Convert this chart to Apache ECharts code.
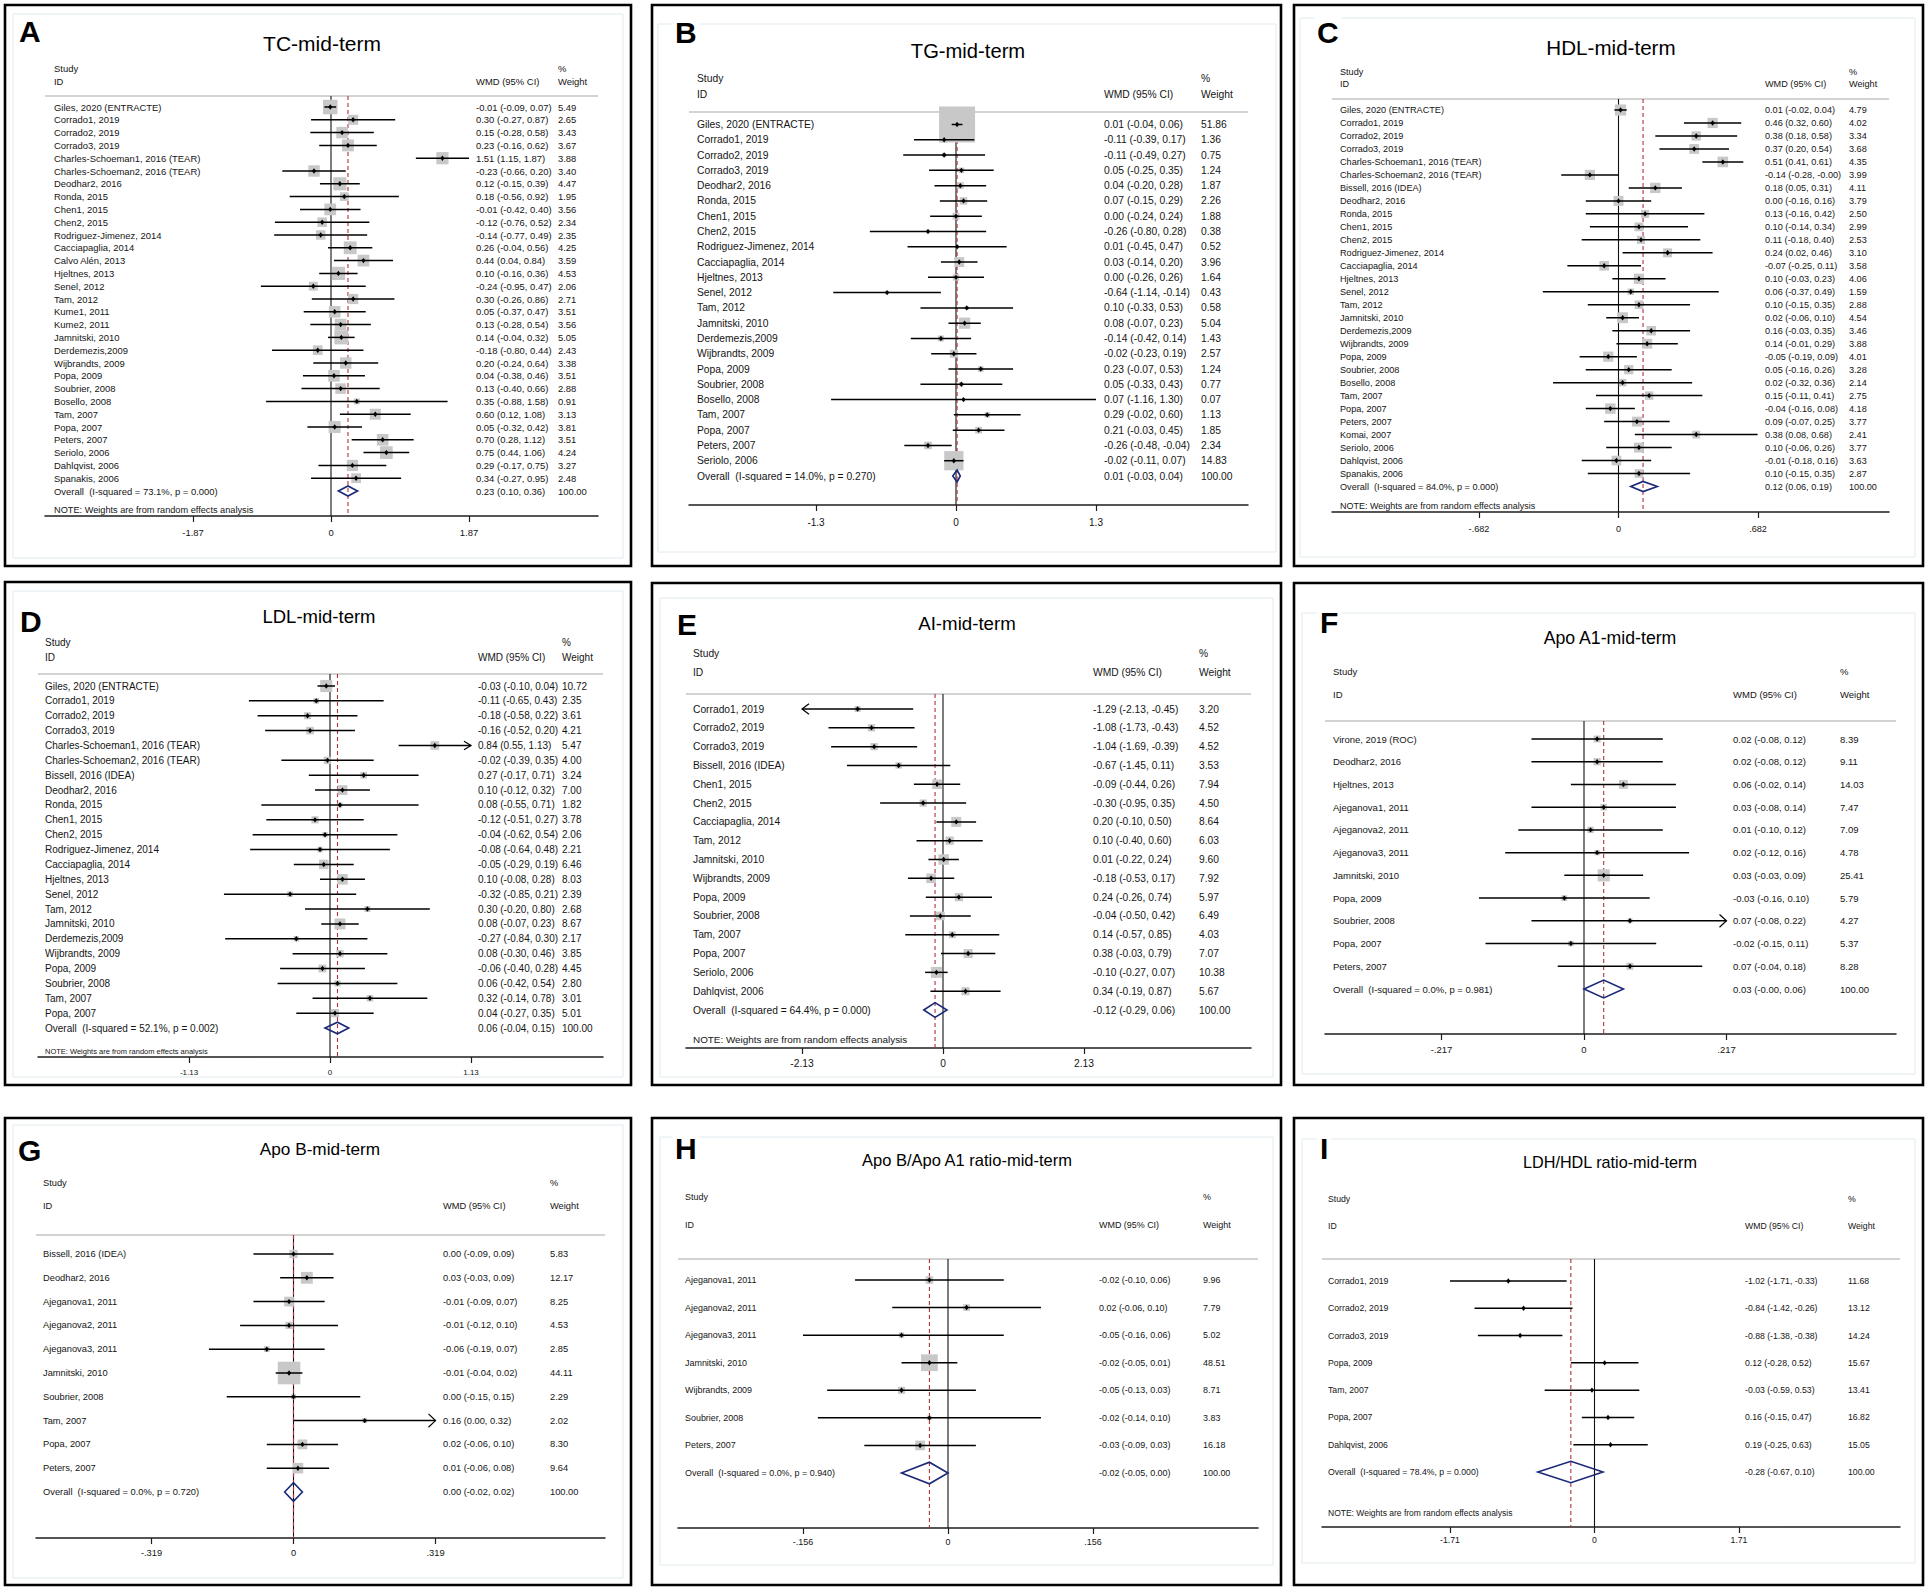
<!DOCTYPE html>
<html>
<head>
<meta charset="utf-8">
<title>Mid-term lipid meta-analysis forest plots</title>
<script src="https://cdn.jsdelivr.net/npm/echarts@6/dist/echarts.min.js"></script>
<style>
  html, body { margin: 0; padding: 0; background: #fff; }
  #chart { width: 1928px; height: 1592px; }
</style>
</head>
<body>
<div id="chart"></div>
<script>
// ---------- data ----------
// A: TC
const tcStudies = ['Giles, 2020 (ENTRACTE)', 'Corrado1, 2019', 'Corrado2, 2019', 'Corrado3, 2019',
  'Charles-Schoeman1, 2016 (TEAR)', 'Charles-Schoeman2, 2016 (TEAR)', 'Deodhar2, 2016', 'Ronda, 2015',
  'Chen1, 2015', 'Chen2, 2015', 'Rodriguez-Jimenez, 2014', 'Cacciapaglia, 2014', 'Calvo Alén, 2013',
  'Hjeltnes, 2013', 'Senel, 2012', 'Tam, 2012', 'Kume1, 2011', 'Kume2, 2011', 'Jamnitski, 2010',
  'Derdemezis,2009', 'Wijbrandts, 2009', 'Popa, 2009', 'Soubrier, 2008', 'Bosello, 2008', 'Tam, 2007',
  'Popa, 2007', 'Peters, 2007', 'Seriolo, 2006', 'Dahlqvist, 2006', 'Spanakis, 2006'];
const tcEst = [-0.01, 0.30, 0.15, 0.23, 1.51, -0.23, 0.12, 0.18, -0.01, -0.12, -0.14, 0.26, 0.44, 0.10, -0.24,
  0.30, 0.05, 0.13, 0.14, -0.18, 0.20, 0.04, 0.13, 0.35, 0.60, 0.05, 0.70, 0.75, 0.29, 0.34];
const tcLow = [-0.09, -0.27, -0.28, -0.16, 1.15, -0.66, -0.15, -0.56, -0.42, -0.76, -0.77, -0.04, 0.04, -0.16, -0.95,
  -0.26, -0.37, -0.28, -0.04, -0.80, -0.24, -0.38, -0.40, -0.88, 0.12, -0.32, 0.28, 0.44, -0.17, -0.27];
const tcHigh = [0.07, 0.87, 0.58, 0.62, 1.87, 0.20, 0.39, 0.92, 0.40, 0.52, 0.49, 0.56, 0.84, 0.36, 0.47,
  0.86, 0.47, 0.54, 0.32, 0.44, 0.64, 0.46, 0.66, 1.58, 1.08, 0.42, 1.12, 1.06, 0.75, 0.95];
const tcWeight = [5.49, 2.65, 3.43, 3.67, 3.88, 3.40, 4.47, 1.95, 3.56, 2.34, 2.35, 4.25, 3.59, 4.53, 2.06,
  2.71, 3.51, 3.56, 5.05, 2.43, 3.38, 3.51, 2.88, 0.91, 3.13, 3.81, 3.51, 4.24, 3.27, 2.48];
const tcOverall = [0.23, 0.10, 0.36];
const tcHetero = [73.1, 0.000];
const tcArrows = [];

// B: TG
const tgStudies = ['Giles, 2020 (ENTRACTE)', 'Corrado1, 2019', 'Corrado2, 2019', 'Corrado3, 2019', 'Deodhar2, 2016',
  'Ronda, 2015', 'Chen1, 2015', 'Chen2, 2015', 'Rodriguez-Jimenez, 2014', 'Cacciapaglia, 2014', 'Hjeltnes, 2013',
  'Senel, 2012', 'Tam, 2012', 'Jamnitski, 2010', 'Derdemezis,2009', 'Wijbrandts, 2009', 'Popa, 2009',
  'Soubrier, 2008', 'Bosello, 2008', 'Tam, 2007', 'Popa, 2007', 'Peters, 2007', 'Seriolo, 2006'];
const tgEst = [0.01, -0.11, -0.11, 0.05, 0.04, 0.07, 0.00, -0.26, 0.01, 0.03, 0.00, -0.64, 0.10, 0.08, -0.14,
  -0.02, 0.23, 0.05, 0.07, 0.29, 0.21, -0.26, -0.02];
const tgLow = [-0.04, -0.39, -0.49, -0.25, -0.20, -0.15, -0.24, -0.80, -0.45, -0.14, -0.26, -1.14, -0.33, -0.07, -0.42,
  -0.23, -0.07, -0.33, -1.16, -0.02, -0.03, -0.48, -0.11];
const tgHigh = [0.06, 0.17, 0.27, 0.35, 0.28, 0.29, 0.24, 0.28, 0.47, 0.20, 0.26, -0.14, 0.53, 0.23, 0.14,
  0.19, 0.53, 0.43, 1.30, 0.60, 0.45, -0.04, 0.07];
const tgWeight = [51.86, 1.36, 0.75, 1.24, 1.87, 2.26, 1.88, 0.38, 0.52, 3.96, 1.64, 0.43, 0.58, 5.04, 1.43,
  2.57, 1.24, 0.77, 0.07, 1.13, 1.85, 2.34, 14.83];
const tgOverall = [0.01, -0.03, 0.04];
const tgHetero = [14.0, 0.270];
const tgArrows = [];

// C: HDL
const hdlStudies = ['Giles, 2020 (ENTRACTE)', 'Corrado1, 2019', 'Corrado2, 2019', 'Corrado3, 2019',
  'Charles-Schoeman1, 2016 (TEAR)', 'Charles-Schoeman2, 2016 (TEAR)', 'Bissell, 2016 (IDEA)', 'Deodhar2, 2016',
  'Ronda, 2015', 'Chen1, 2015', 'Chen2, 2015', 'Rodriguez-Jimenez, 2014', 'Cacciapaglia, 2014', 'Hjeltnes, 2013',
  'Senel, 2012', 'Tam, 2012', 'Jamnitski, 2010', 'Derdemezis,2009', 'Wijbrandts, 2009', 'Popa, 2009',
  'Soubrier, 2008', 'Bosello, 2008', 'Tam, 2007', 'Popa, 2007', 'Peters, 2007', 'Komai, 2007', 'Seriolo, 2006',
  'Dahlqvist, 2006', 'Spanakis, 2006'];
const hdlEst = [0.01, 0.46, 0.38, 0.37, 0.51, -0.14, 0.18, 0.00, 0.13, 0.10, 0.11, 0.24, -0.07, 0.10, 0.06,
  0.10, 0.02, 0.16, 0.14, -0.05, 0.05, 0.02, 0.15, -0.04, 0.09, 0.38, 0.10, -0.01, 0.10];
const hdlLow = [-0.02, 0.32, 0.18, 0.20, 0.41, -0.28, 0.05, -0.16, -0.16, -0.14, -0.18, 0.02, -0.25, -0.03, -0.37,
  -0.15, -0.06, -0.03, -0.01, -0.19, -0.16, -0.32, -0.11, -0.16, -0.07, 0.08, -0.06, -0.18, -0.15];
const hdlHigh = [0.04, 0.60, 0.58, 0.54, 0.61, -0, 0.31, 0.16, 0.42, 0.34, 0.40, 0.46, 0.11, 0.23, 0.49,
  0.35, 0.10, 0.35, 0.29, 0.09, 0.26, 0.36, 0.41, 0.08, 0.25, 0.68, 0.26, 0.16, 0.35];
const hdlWeight = [4.79, 4.02, 3.34, 3.68, 4.35, 3.99, 4.11, 3.79, 2.50, 2.99, 2.53, 3.10, 3.58, 4.06, 1.59,
  2.88, 4.54, 3.46, 3.88, 4.01, 3.28, 2.14, 2.75, 4.18, 3.77, 2.41, 3.77, 3.63, 2.87];
const hdlOverall = [0.12, 0.06, 0.19];
const hdlHetero = [84.0, 0.000];
const hdlArrows = [];

// D: LDL
const ldlStudies = ['Giles, 2020 (ENTRACTE)', 'Corrado1, 2019', 'Corrado2, 2019', 'Corrado3, 2019',
  'Charles-Schoeman1, 2016 (TEAR)', 'Charles-Schoeman2, 2016 (TEAR)', 'Bissell, 2016 (IDEA)', 'Deodhar2, 2016',
  'Ronda, 2015', 'Chen1, 2015', 'Chen2, 2015', 'Rodriguez-Jimenez, 2014', 'Cacciapaglia, 2014', 'Hjeltnes, 2013',
  'Senel, 2012', 'Tam, 2012', 'Jamnitski, 2010', 'Derdemezis,2009', 'Wijbrandts, 2009', 'Popa, 2009',
  'Soubrier, 2008', 'Tam, 2007', 'Popa, 2007'];
const ldlEst = [-0.03, -0.11, -0.18, -0.16, 0.84, -0.02, 0.27, 0.10, 0.08, -0.12, -0.04, -0.08, -0.05, 0.10, -0.32,
  0.30, 0.08, -0.27, 0.08, -0.06, 0.06, 0.32, 0.04];
const ldlLow = [-0.10, -0.65, -0.58, -0.52, 0.55, -0.39, -0.17, -0.12, -0.55, -0.51, -0.62, -0.64, -0.29, -0.08, -0.85,
  -0.20, -0.07, -0.84, -0.30, -0.40, -0.42, -0.14, -0.27];
const ldlHigh = [0.04, 0.43, 0.22, 0.20, 1.13, 0.35, 0.71, 0.32, 0.71, 0.27, 0.54, 0.48, 0.19, 0.28, 0.21,
  0.80, 0.23, 0.30, 0.46, 0.28, 0.54, 0.78, 0.35];
const ldlWeight = [10.72, 2.35, 3.61, 4.21, 5.47, 4.00, 3.24, 7.00, 1.82, 3.78, 2.06, 2.21, 6.46, 8.03, 2.39,
  2.68, 8.67, 2.17, 3.85, 4.45, 2.80, 3.01, 5.01];
const ldlOverall = [0.06, -0.04, 0.15];
const ldlHetero = [52.1, 0.002];
const ldlArrows = [4];

// E: AI
const aiStudies = ['Corrado1, 2019', 'Corrado2, 2019', 'Corrado3, 2019', 'Bissell, 2016 (IDEA)', 'Chen1, 2015',
  'Chen2, 2015', 'Cacciapaglia, 2014', 'Tam, 2012', 'Jamnitski, 2010', 'Wijbrandts, 2009', 'Popa, 2009',
  'Soubrier, 2008', 'Tam, 2007', 'Popa, 2007', 'Seriolo, 2006', 'Dahlqvist, 2006'];
const aiEst = [-1.29, -1.08, -1.04, -0.67, -0.09, -0.30, 0.20, 0.10, 0.01, -0.18, 0.24, -0.04, 0.14, 0.38, -0.10, 0.34];
const aiLow = [-2.13, -1.73, -1.69, -1.45, -0.44, -0.95, -0.10, -0.40, -0.22, -0.53, -0.26, -0.50, -0.57, -0.03, -0.27, -0.19];
const aiHigh = [-0.45, -0.43, -0.39, 0.11, 0.26, 0.35, 0.50, 0.60, 0.24, 0.17, 0.74, 0.42, 0.85, 0.79, 0.07, 0.87];
const aiWeight = [3.20, 4.52, 4.52, 3.53, 7.94, 4.50, 8.64, 6.03, 9.60, 7.92, 5.97, 6.49, 4.03, 7.07, 10.38, 5.67];
const aiOverall = [-0.12, -0.29, 0.06];
const aiHetero = [64.4, 0.000];
const aiArrows = [0];

// F: Apo A1
const apoa1Studies = ['Virone, 2019 (ROC)', 'Deodhar2, 2016', 'Hjeltnes, 2013', 'Ajeganova1, 2011', 'Ajeganova2, 2011',
  'Ajeganova3, 2011', 'Jamnitski, 2010', 'Popa, 2009', 'Soubrier, 2008', 'Popa, 2007', 'Peters, 2007'];
const apoa1Est = [0.02, 0.02, 0.06, 0.03, 0.01, 0.02, 0.03, -0.03, 0.07, -0.02, 0.07];
const apoa1Low = [-0.08, -0.08, -0.02, -0.08, -0.10, -0.12, -0.03, -0.16, -0.08, -0.15, -0.04];
const apoa1High = [0.12, 0.12, 0.14, 0.14, 0.12, 0.16, 0.09, 0.10, 0.22, 0.11, 0.18];
const apoa1Weight = [8.39, 9.11, 14.03, 7.47, 7.09, 4.78, 25.41, 5.79, 4.27, 5.37, 8.28];
const apoa1Overall = [0.03, -0, 0.06];
const apoa1Hetero = [0.0, 0.981];
const apoa1Arrows = [8];

// G: Apo B
const apobStudies = ['Bissell, 2016 (IDEA)', 'Deodhar2, 2016', 'Ajeganova1, 2011', 'Ajeganova2, 2011', 'Ajeganova3, 2011',
  'Jamnitski, 2010', 'Soubrier, 2008', 'Tam, 2007', 'Popa, 2007', 'Peters, 2007'];
const apobEst = [0.00, 0.03, -0.01, -0.01, -0.06, -0.01, 0.00, 0.16, 0.02, 0.01];
const apobLow = [-0.09, -0.03, -0.09, -0.12, -0.19, -0.04, -0.15, 0.00, -0.06, -0.06];
const apobHigh = [0.09, 0.09, 0.07, 0.10, 0.07, 0.02, 0.15, 0.32, 0.10, 0.08];
const apobWeight = [5.83, 12.17, 8.25, 4.53, 2.85, 44.11, 2.29, 2.02, 8.30, 9.64];
const apobOverall = [0.00, -0.02, 0.02];
const apobHetero = [0.0, 0.720];
const apobArrows = [7];

// H: Apo B / Apo A1 ratio
const ratioStudies = ['Ajeganova1, 2011', 'Ajeganova2, 2011', 'Ajeganova3, 2011', 'Jamnitski, 2010',
  'Wijbrandts, 2009', 'Soubrier, 2008', 'Peters, 2007'];
const ratioEst = [-0.02, 0.02, -0.05, -0.02, -0.05, -0.02, -0.03];
const ratioLow = [-0.10, -0.06, -0.16, -0.05, -0.13, -0.14, -0.09];
const ratioHigh = [0.06, 0.10, 0.06, 0.01, 0.03, 0.10, 0.03];
const ratioWeight = [9.96, 7.79, 5.02, 48.51, 8.71, 3.83, 16.18];
const ratioOverall = [-0.02, -0.05, 0.00];
const ratioHetero = [0.0, 0.940];
const ratioArrows = [];

// I: LDH/HDL ratio
const ldhStudies = ['Corrado1, 2019', 'Corrado2, 2019', 'Corrado3, 2019', 'Popa, 2009', 'Tam, 2007', 'Popa, 2007',
  'Dahlqvist, 2006'];
const ldhEst = [-1.02, -0.84, -0.88, 0.12, -0.03, 0.16, 0.19];
const ldhLow = [-1.71, -1.42, -1.38, -0.28, -0.59, -0.15, -0.25];
const ldhHigh = [-0.33, -0.26, -0.38, 0.52, 0.53, 0.47, 0.63];
const ldhWeight = [11.68, 13.12, 14.24, 15.67, 13.41, 16.82, 15.05];
const ldhOverall = [-0.28, -0.67, 0.10];
const ldhHetero = [78.4, 0.000];
const ldhArrows = [];

// ---------- panel layout (pixels on the 1928x1592 page) ----------
const panels = [
  { letter: 'A', title: 'TC-mid-term', studies: tcStudies, est: tcEst, low: tcLow, high: tcHigh, weight: tcWeight,
    overall: tcOverall, hetero: tcHetero, arrows: tcArrows, tick: 1.87, note: true,
    box: [5, 5, 631, 566], frame: [13, 14, 623, 558], letterPos: [16, 31], titlePos: [322, 43], titleSize: 21,
    font: 9.45, studyX: 54, wmdX: 476, wtX: 558, hdrY: [68, 81], lineX: [45, 598], headerY: 96, axisY: 516,
    zeroX: 331, tickPx: 138, rowY: [107, 491], noteY: 510, noteSize: 9.2, tickSize: 9.45, labelY: 533, boxK: 6.2 },
  { letter: 'B', title: 'TG-mid-term', studies: tgStudies, est: tgEst, low: tgLow, high: tgHigh, weight: tgWeight,
    overall: tgOverall, hetero: tgHetero, arrows: tgArrows, tick: 1.3, note: false,
    box: [652, 5, 1281, 566], frame: [658, 24, 1276, 552], letterPos: [672, 32], titlePos: [968, 51], titleSize: 20.2,
    font: 10.3, studyX: 697, wmdX: 1104, wtX: 1201, hdrY: [78, 94], lineX: [689, 1248], headerY: 112, axisY: 505,
    zeroX: 956, tickPx: 140, rowY: [124.5, 476], tickSize: 10, labelY: 522, boxK: 5.0 },
  { letter: 'C', title: 'HDL-mid-term', studies: hdlStudies, est: hdlEst, low: hdlLow, high: hdlHigh, weight: hdlWeight,
    overall: hdlOverall, hetero: hdlHetero, arrows: hdlArrows, tick: 0.682, note: true,
    box: [1294, 5, 1923, 566], frame: [1300, 18, 1915, 557], letterPos: [1314, 32], titlePos: [1611, 47], titleSize: 20.6,
    font: 9.15, studyX: 1340, wmdX: 1765, wtX: 1849, hdrY: [71.5, 84], lineX: [1332, 1889], headerY: 99, axisY: 512,
    zeroX: 1618.5, tickPx: 139.5, rowY: [110, 486.5], noteY: 506, noteSize: 9, tickSize: 9.15, labelY: 529, boxK: 5.1 },
  { letter: 'D', title: 'LDL-mid-term', studies: ldlStudies, est: ldlEst, low: ldlLow, high: ldlHigh, weight: ldlWeight,
    overall: ldlOverall, hetero: ldlHetero, arrows: ldlArrows, tick: 1.13, note: true,
    box: [5, 582, 631, 1085], frame: [13, 591, 623, 1077], letterPos: [17, 621], titlePos: [319, 616], titleSize: 18.5,
    font: 10, studyX: 45, wmdX: 478, wtX: 562, hdrY: [642, 657], lineX: [38, 603], headerY: 674, axisY: 1057,
    zeroX: 330, tickPx: 141, rowY: [686, 1028], noteY: 1051, noteSize: 7.5, tickSize: 8, labelY: 1072, boxK: 3.7 },
  { letter: 'E', title: 'AI-mid-term', studies: aiStudies, est: aiEst, low: aiLow, high: aiHigh, weight: aiWeight,
    overall: aiOverall, hetero: aiHetero, arrows: aiArrows, tick: 2.13, note: true,
    box: [652, 583, 1281, 1085], frame: [660, 598, 1273, 1077], letterPos: [674, 624], titlePos: [967, 623], titleSize: 18.7,
    font: 10.25, studyX: 693, wmdX: 1093, wtX: 1199, hdrY: [653, 672], lineX: [686, 1251], headerY: 694, axisY: 1048,
    zeroX: 943, tickPx: 141, rowY: [709, 1010], noteY: 1039, noteSize: 9.9, tickSize: 10.25, labelY: 1064, boxK: 3.4 },
  { letter: 'F', title: 'Apo A1-mid-term', studies: apoa1Studies, est: apoa1Est, low: apoa1Low, high: apoa1High,
    weight: apoa1Weight, overall: apoa1Overall, hetero: apoa1Hetero, arrows: apoa1Arrows, tick: 0.217, note: false,
    box: [1294, 583, 1923, 1085], frame: [1302, 613, 1915, 1074], letterPos: [1317, 622], titlePos: [1610, 638], titleSize: 17.7,
    font: 9.5, studyX: 1333, wmdX: 1733, wtX: 1840, hdrY: [671, 694], lineX: [1325, 1896], headerY: 721, axisY: 1034,
    zeroX: 1584, tickPx: 142.5, rowY: [739, 989], tickSize: 9.5, labelY: 1049, boxK: 2.4 },
  { letter: 'G', title: 'Apo B-mid-term', studies: apobStudies, est: apobEst, low: apobLow, high: apobHigh,
    weight: apobWeight, overall: apobOverall, hetero: apobHetero, arrows: apobArrows, tick: 0.319, note: false,
    box: [5, 1118, 631, 1585], frame: [13, 1125, 623, 1578], letterPos: [15, 1150], titlePos: [320, 1149], titleSize: 17.2,
    font: 9.3, studyX: 43, wmdX: 443, wtX: 550, hdrY: [1183, 1206], lineX: [36, 605], headerY: 1235, axisY: 1538,
    zeroX: 293.5, tickPx: 142, rowY: [1254, 1492], tickSize: 9.3, labelY: 1553, boxK: 3.4 },
  { letter: 'H', title: 'Apo B/Apo A1 ratio-mid-term', studies: ratioStudies, est: ratioEst, low: ratioLow, high: ratioHigh,
    weight: ratioWeight, overall: ratioOverall, hetero: ratioHetero, arrows: ratioArrows, tick: 0.156, note: false,
    box: [652, 1118, 1281, 1585], frame: [660, 1137, 1273, 1565], letterPos: [672, 1148], titlePos: [967, 1160], titleSize: 16.5,
    font: 8.95, studyX: 685, wmdX: 1099, wtX: 1203, hdrY: [1197, 1225], lineX: [678, 1258], headerY: 1259, axisY: 1528,
    zeroX: 948, tickPx: 145, rowY: [1280, 1473], tickSize: 8.95, labelY: 1542, boxK: 2.4 },
  { letter: 'I', title: 'LDH/HDL ratio-mid-term', studies: ldhStudies, est: ldhEst, low: ldhLow, high: ldhHigh,
    weight: ldhWeight, overall: ldhOverall, hetero: ldhHetero, arrows: ldhArrows, tick: 1.71, note: true,
    box: [1294, 1118, 1923, 1585], frame: [1302, 1139, 1915, 1563], letterPos: [1317, 1148], titlePos: [1610, 1162], titleSize: 16.2,
    font: 8.7, studyX: 1328, wmdX: 1745, wtX: 1848, hdrY: [1199, 1226], lineX: [1322, 1900], headerY: 1259, axisY: 1527,
    zeroX: 1594.5, tickPx: 144.5, rowY: [1281, 1472], noteY: 1513, noteSize: 8.5, tickSize: 8.7, labelY: 1540, boxK: 0 }
];

const FONT = '"Liberation Sans", Arial, Helvetica, sans-serif';
const TEXT_COLOR = '#141414';

// Stata style tick labels: ".682" instead of "0.682"
function stataTick(v) {
  if (v === 0) return '0';
  let s = String(Math.abs(v));
  if (s.indexOf('0.') === 0) s = s.slice(1);
  return (v < 0 ? '-' : '') + s;
}
function num2(v) {
  return (v < 0 || Object.is(v, -0) ? '-' : '') + Math.abs(v).toFixed(2);
}
function ciText(e, l, h) {
  return num2(e) + ' (' + num2(l) + ', ' + num2(h) + ')';
}
function textEl(text, x, y, size, extra) {
  return {
    type: 'text',
    style: Object.assign({ text: text, x: x, y: y, fontSize: size, fontFamily: FONT, fill: TEXT_COLOR,
      align: 'left', verticalAlign: 'middle' }, extra || {})
  };
}

const option = {
  animation: false,
  backgroundColor: '#ffffff',
  grid: [], xAxis: [], yAxis: [], series: [],
  graphic: { elements: [] }
};

panels.forEach((p, i) => {
  const n = p.studies.length;
  const T = p.tick;
  const unit = T / p.tickPx;
  const step = (p.rowY[1] - p.rowY[0]) / n;
  const g = option.graphic.elements;

  // outer box, faint inner frame
  g.push({ type: 'rect', z: 0, silent: true,
    shape: { x: p.frame[0], y: p.frame[1], width: p.frame[2] - p.frame[0], height: p.frame[3] - p.frame[1] },
    style: { fill: 'none', stroke: '#e1eaee', lineWidth: 1 } });
  g.push({ type: 'rect', z: 10, silent: true,
    shape: { x: p.box[0], y: p.box[1], width: p.box[2] - p.box[0], height: p.box[3] - p.box[1] },
    style: { fill: 'none', stroke: '#000', lineWidth: 2.6 } });
  // panel letter and title
  g.push(Object.assign(textEl(p.letter, p.letterPos[0], p.letterPos[1], 30,
    { fontWeight: 'bold', fill: '#000', backgroundColor: '#fff', padding: [0, 3] }), { z: 5 }));
  g.push(Object.assign(textEl(p.title, p.titlePos[0], p.titlePos[1], p.titleSize,
    { align: 'center', fill: '#000' }), { z: 5 }));
  // column headers
  g.push(textEl('Study', p.studyX, p.hdrY[0], p.font));
  g.push(textEl('ID', p.studyX, p.hdrY[1], p.font));
  g.push(textEl('WMD (95% CI)', p.wmdX, p.hdrY[1], p.font));
  g.push(textEl('%', p.wtX, p.hdrY[0], p.font));
  g.push(textEl('Weight', p.wtX, p.hdrY[1], p.font));
  g.push({ type: 'line', z: 0, silent: true,
    shape: { x1: p.lineX[0], y1: p.headerY, x2: p.lineX[1], y2: p.headerY },
    style: { stroke: '#d3d3d3', lineWidth: 2 } });
  if (p.note) {
    g.push(textEl('NOTE: Weights are from random effects analysis', p.studyX, p.noteY, p.noteSize));
  }

  option.grid.push({ left: p.lineX[0], top: p.headerY, width: p.lineX[1] - p.lineX[0], height: p.axisY - p.headerY });
  option.xAxis.push({
    type: 'value', gridIndex: i,
    min: (p.lineX[0] - p.zeroX) * unit, max: (p.lineX[1] - p.zeroX) * unit,
    splitLine: { show: false },
    axisLine: { onZero: false, lineStyle: { color: '#1e1e1e', width: 1.5 } },
    axisTick: { customValues: [-T, 0, T], length: 6, lineStyle: { color: '#1e1e1e', width: 1.2 } },
    axisLabel: { customValues: [-T, 0, T], formatter: stataTick, fontSize: p.tickSize, fontFamily: FONT,
      color: TEXT_COLOR, margin: p.labelY - p.axisY - p.tickSize / 2 }
  });
  option.yAxis.push({
    type: 'value', gridIndex: i, inverse: true, show: false,
    axisLine: { onZero: false },
    min: -(p.rowY[0] - p.headerY) / step, max: n + (p.axisY - p.rowY[1]) / step
  });

  // vertical reference lines: no effect (0) and pooled estimate
  option.series.push({
    type: 'custom', name: p.letter + '-ref', xAxisIndex: i, yAxisIndex: i, silent: true, z: 1,
    data: [[p.overall[0], n]],
    encode: { x: 0, y: 1 },
    renderItem: (params, api) => {
      const cs = params.coordSys;
      const x0 = api.coord([0, n])[0];
      const xm = api.coord([api.value(0), n])[0];
      return { type: 'group', children: [
        { type: 'line', shape: { x1: x0, y1: cs.y, x2: x0, y2: cs.y + cs.height },
          style: { stroke: '#111', lineWidth: 1.1 } },
        { type: 'line', shape: { x1: xm, y1: cs.y, x2: xm, y2: cs.y + cs.height },
          style: { stroke: '#b3303a', lineWidth: 1.1, lineDash: [4, 3] } }
      ] };
    }
  });

  // one row per study: weight box, CI line, point, texts
  option.series.push({
    type: 'custom', name: p.letter + '-studies', xAxisIndex: i, yAxisIndex: i, silent: true, z: 3,
    data: p.est.map((e, r) => [e, r, p.low[r], p.high[r], p.weight[r]]),
    encode: { x: 0, y: 1 },
    renderItem: (params, api) => {
      const r = params.dataIndex;
      const row = api.value(1), lo = api.value(2), hi = api.value(3);
      const c = api.coord([api.value(0), row]);
      const cx = c[0], cy = c[1];
      const xl = api.coord([Math.max(lo, -T), row])[0];
      const xr = api.coord([Math.min(hi, T), row])[0];
      const side = p.boxK * Math.sqrt(api.value(4));
      const kids = [];
      if (side > 0) {
        kids.push({ type: 'rect', shape: { x: cx - side / 2, y: cy - side / 2, width: side, height: side },
          style: { fill: '#c8c8c8' } });
      }
      kids.push({ type: 'line', shape: { x1: xl, y1: cy, x2: xr, y2: cy }, style: { stroke: '#000', lineWidth: 1.5 } });
      if (p.arrows.indexOf(r) >= 0) {
        const right = hi >= T;
        const tip = right ? xr : xl;
        const d = right ? -7 : 7;
        const h = step * 0.28;
        kids.push({ type: 'polyline', shape: { points: [[tip + d, cy - h], [tip, cy], [tip + d, cy + h]] },
          style: { stroke: '#000', fill: 'none', lineWidth: 1.2 } });
      }
      kids.push({ type: 'polygon', shape: { points: [[cx - 2.1, cy], [cx, cy - 2.7], [cx + 2.1, cy], [cx, cy + 2.7]] },
        style: { fill: '#000' } });
      kids.push(textEl(p.studies[r], p.studyX, cy, p.font));
      kids.push(textEl(ciText(p.est[r], p.low[r], p.high[r]), p.wmdX, cy, p.font));
      kids.push(textEl(p.weight[r].toFixed(2), p.wtX, cy, p.font));
      return { type: 'group', children: kids };
    }
  });

  // pooled estimate diamond and its texts
  option.series.push({
    type: 'custom', name: p.letter + '-overall', xAxisIndex: i, yAxisIndex: i, silent: true, z: 4,
    data: [[p.overall[0], n, p.overall[1], p.overall[2]]],
    encode: { x: 0, y: 1 },
    renderItem: (params, api) => {
      const row = api.value(1);
      const c = api.coord([api.value(0), row]);
      const xl = api.coord([api.value(2), row])[0];
      const xr = api.coord([api.value(3), row])[0];
      const h = step * 0.39;
      const label = 'Overall\u00a0 (I-squared = ' + p.hetero[0].toFixed(1) + '%, p = ' + p.hetero[1].toFixed(3) + ')';
      return { type: 'group', children: [
        { type: 'polygon', shape: { points: [[xl, c[1]], [c[0], c[1] - h], [xr, c[1]], [c[0], c[1] + h]] },
          style: { fill: 'none', stroke: '#1b2877', lineWidth: 1.6 } },
        textEl(label, p.studyX, c[1], p.font),
        textEl(ciText(p.overall[0], p.overall[1], p.overall[2]), p.wmdX, c[1], p.font),
        textEl('100.00', p.wtX, c[1], p.font)
      ] };
    }
  });
});

const chart = echarts.init(document.getElementById('chart'), null, { renderer: 'svg' });
chart.setOption(option);
</script>
</body>
</html>
